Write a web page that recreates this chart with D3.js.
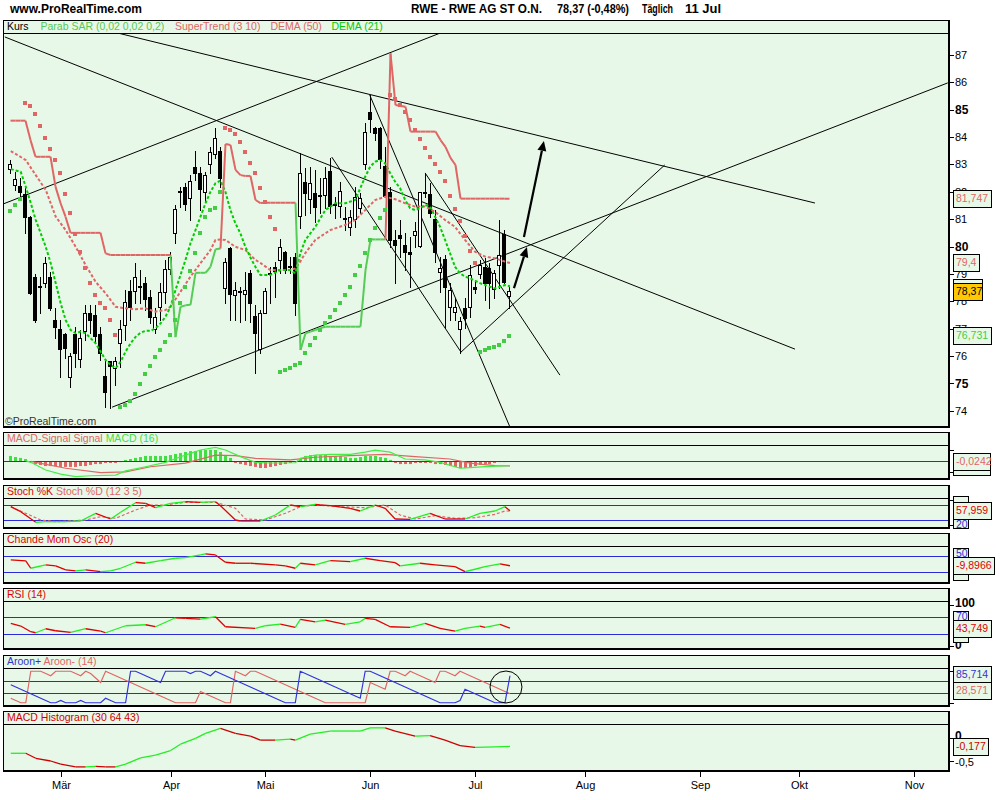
<!DOCTYPE html>
<html><head><meta charset="utf-8">
<script src="https://cdn.jsdelivr.net/npm/d3@7/dist/d3.min.js"></script>
<style>
html,body{margin:0;padding:0;background:#fff;}
svg{display:block;font-family:"Liberation Sans",Arial,Helvetica,sans-serif;}
</style></head><body>
<svg id="chart" width="1000" height="800"></svg>
<script>
// ================= DATA =================
const monthLabels = ["Mär","Apr","Mai","Jun","Jul","Aug","Sep","Okt","Nov"];
const monthIndex  = [10,32,51,72,93,115,138,158,181];
const priceTicks  = [74,75,76,77,78,79,80,81,82,83,84,85,86,87];

const openP = [82.83,82.25,82.20,81.92,81.08,78.89,78.55,78.67,78.89,77.31,
76.99,76.80,75.23,76.80,75.89,76.91,77.57,77.50,76.80,75.27,
75.82,75.56,76.47,77.13,78.37,78.37,78.55,78.67,78.15,76.99,
77.79,78.34,79.18,80.49,82.00,82.17,81.77,82.90,82.68,81.99,
83.02,83.38,83.49,78.48,79.96,78.23,78.33,78.26,79.02,77.46,
76.26,77.57,79.02,79.25,79.51,79.80,79.30,79.62,81.12,82.36,
81.74,81.96,81.90,81.88,82.76,81.55,81.48,81.00,80.71,81.00,
81.41,83.02,84.92,84.33,84.33,82.94,81.99,80.24,80.42,80.06,
79.80,80.42,80.02,82.00,81.92,81.00,79.07,79.54,77.79,77.61,
76.99,77.75,77.79,78.52,78.99,79.25,79.21,78.45,79.32,80.46,
78.19];
const highP = [83.16,82.72,82.50,82.19,81.10,79.00,78.89,79.62,79.07,77.75,
77.31,76.84,76.11,77.06,76.95,77.86,77.86,77.86,77.06,75.85,
75.82,75.96,77.31,78.41,78.78,79.40,79.14,78.89,78.41,77.75,
78.67,79.51,79.80,81.52,82.19,82.32,82.61,83.49,82.92,82.73,
83.65,84.32,83.65,79.58,80.00,78.71,78.53,79.08,79.14,77.86,
77.68,78.48,79.25,79.43,80.27,79.84,79.62,79.76,83.42,82.87,
82.90,82.80,82.50,82.90,83.24,81.81,82.36,81.44,81.33,82.17,
81.96,84.52,85.54,84.37,84.37,83.64,82.18,80.60,80.97,80.49,
80.35,80.90,82.00,82.69,82.32,81.33,79.62,79.69,78.67,78.12,
77.42,78.12,79.32,78.78,79.51,79.58,79.40,79.14,80.97,80.60,
78.52];
const lowP = [82.69,82.07,81.80,80.49,78.25,77.25,77.57,78.52,77.68,76.66,
75.23,75.93,74.87,75.60,75.60,76.58,76.84,76.47,75.85,74.13,
74.10,74.94,75.60,76.58,77.31,77.94,77.94,77.68,77.20,76.84,
77.31,77.94,79.00,80.14,81.46,81.33,80.97,82.43,81.33,81.64,
82.68,83.22,82.19,77.94,77.31,77.31,77.25,77.31,77.25,75.38,
76.11,77.57,77.93,78.15,79.03,79.03,79.03,77.50,80.68,81.15,
81.22,80.90,81.22,81.41,81.22,81.04,81.08,80.60,80.42,80.71,
81.22,82.83,84.19,83.89,82.87,81.81,79.98,78.67,79.62,79.14,
78.52,79.98,79.98,81.81,81.08,79.43,78.34,77.02,77.31,77.31,
76.11,77.02,77.42,78.30,78.85,78.05,77.75,78.12,78.48,78.67,
77.75];
const closeP = [83.02,82.47,82.00,81.08,78.30,77.31,78.52,79.40,77.75,77.06,
76.26,76.29,76.00,76.11,76.66,77.57,77.31,76.73,76.11,74.68,
75.63,75.82,76.99,77.97,77.79,78.89,78.52,78.08,77.42,77.42,
78.34,79.18,79.60,81.37,82.02,81.54,82.39,82.68,82.09,82.61,
83.45,83.97,82.49,79.44,78.26,78.41,78.37,78.41,77.93,76.84,
77.57,78.37,79.04,79.10,79.98,79.14,79.28,77.93,82.69,81.96,
82.32,81.44,81.86,82.50,81.48,81.50,82.03,81.03,81.08,81.81,
81.77,84.19,84.66,84.15,83.20,81.85,80.24,80.06,80.31,79.80,
79.73,80.57,81.99,81.98,81.22,79.80,79.22,78.52,78.41,77.79,
77.28,77.39,78.96,78.45,79.32,78.67,78.67,79.03,79.69,78.70,
78.37];

const parabSAR = [81.31,81.52,81.74,85.26,85.15,84.84,84.42,83.98,83.56,83.16,
82.68,81.92,81.24,80.46,79.79,79.23,78.68,78.23,77.92,77.76,
77.31,76.77,74.15,74.21,74.36,74.61,74.97,75.34,75.63,75.97,
76.22,76.50,76.77,77.31,77.94,78.52,79.12,79.76,80.50,81.09,
81.33,81.42,82.00,84.34,84.26,84.10,83.81,83.44,83.06,82.70,
82.13,81.62,81.09,80.64,75.40,75.49,75.57,75.67,75.75,76.10,
76.40,76.67,76.95,77.19,77.43,77.68,77.92,78.23,78.51,78.96,
79.29,79.75,80.24,80.68,81.04,81.33,85.54,85.38,85.17,84.93,
84.62,84.26,83.93,83.61,83.28,83.02,82.73,82.41,81.86,81.37,
80.94,80.38,79.85,79.41,76.16,76.22,76.28,76.32,76.40,76.56,
76.731];

const superTrend = [84.60,84.60,84.60,84.60,83.89,83.28,83.28,83.28,83.28,82.19,
81.59,81.09,80.50,80.50,80.50,80.50,80.50,80.50,80.50,79.75,
79.69,79.69,79.69,79.69,79.69,79.69,79.69,79.69,79.69,79.69,
79.69,79.69,79.69,76.69,77.80,77.85,77.87,79.04,79.04,79.04,
79.26,79.90,79.93,83.75,83.71,82.80,82.61,82.58,82.58,81.70,
81.59,81.60,81.60,81.60,81.60,81.60,81.60,81.60,76.22,76.83,
76.89,76.95,77.02,77.07,77.07,77.07,77.07,77.07,77.07,77.07,
77.07,79.14,80.26,80.26,80.26,80.26,87.06,85.17,85.14,85.11,
84.20,84.20,84.20,84.20,84.20,84.20,83.89,83.64,83.24,82.98,
81.75,81.75,81.75,81.75,81.75,81.75,81.75,81.75,81.75,81.75,
81.747];

const dema50 = [[0,83.49],[3,83.16],[5,82.61],[7,82.07],[9,81.09],[11,80.60],[13,79.99],[15,79.32],[17,78.71],[19,78.29],[21,77.80],[23,77.74],[25,77.71],[27,77.74],[29,77.62],[31,77.68],[32,77.80],[34,78.35],[36,78.90],[38,79.39],[40,79.87],[41,80.24],[42,80.26],[43,80.24],[45,79.99],[47,79.87],[49,79.51],[50,79.40],[52,79.14],[54,79.14],[56,79.14],[57,79.20],[58,79.45],[59,79.76],[61,80.24],[64,80.60],[67,80.79],[69,80.97],[71,81.33],[73,81.70],[75,81.82],[77,81.73],[79,81.58],[81,81.46],[83,81.46],[85,81.27],[87,80.97],[89,80.72],[91,80.24],[93,79.81],[95,79.63],[97,79.57],[99,79.45],[100,79.40]];
const dema21 = [[0,82.83],[2,82.73],[3,82.19],[4,81.59],[5,80.97],[6,80.48],[7,79.99],[8,79.39],[9,78.66],[10,77.92],[11,77.31],[12,76.95],[13,76.83],[14,76.89],[15,76.83],[16,76.65],[17,76.46],[18,76.16],[19,75.85],[20,75.67],[21,75.55],[22,75.79],[23,76.16],[24,76.46],[25,76.70],[26,76.85],[27,76.92],[28,76.92],[29,77.01],[30,77.19],[31,77.44],[32,77.80],[33,78.41],[34,78.96],[35,79.51],[36,80.12],[37,80.60],[38,81.09],[39,81.58],[40,82.00],[41,82.31],[42,82.41],[43,82.00],[44,81.33],[45,80.85],[46,80.48],[47,79.99],[48,79.60],[49,79.26],[50,78.96],[52,78.96],[54,79.14],[56,79.14],[57,79.02],[58,79.75],[59,80.24],[61,80.72],[63,81.33],[65,81.58],[67,81.58],[69,81.70],[71,82.55],[72,82.92],[73,83.10],[74,83.16],[75,83.04],[76,82.68],[77,82.37],[78,82.13],[79,81.70],[80,81.40],[81,81.33],[82,81.40],[83,81.52],[84,81.46],[85,81.09],[86,80.72],[87,80.24],[88,79.75],[89,79.26],[90,79.02],[91,78.90],[92,78.84],[94,78.66],[96,78.53],[97,78.47],[99,78.59],[100,78.55]];

// trend lines: [index1, price1, index2, price2]
const trendLines = [
  [-1.2,87.66,157.1,76.25],
  [21.5,87.80,161.1,81.59],
  [-1.6,81.55,86.0,87.80],
  [20.3,74.13,187.7,85.98],
  [71.9,85.54,100.0,73.40],
  [90.0,76.11,131.0,82.98],
  [83.0,82.69,110.0,75.30],
  [64.3,83.27,90.2,76.14]
];
const arrowLines = [[100.8,78.48,103.4,79.98],[102.8,80.35,106.8,83.86]];

// MACD (16)
const macdBars = [0.23,0.18,0.14,0.09,-0.05,-0.14,-0.18,-0.23,-0.23,-0.23,
-0.27,-0.27,-0.27,-0.27,-0.23,-0.23,-0.18,-0.14,-0.14,-0.09,
-0.09,-0.09,-0.05,0.05,0.09,0.14,0.18,0.23,0.23,0.23,
0.23,0.23,0.27,0.32,0.36,0.41,0.45,0.45,0.50,0.50,
0.50,0.50,0.41,0.27,0.14,-0.09,-0.14,-0.18,-0.23,-0.27,
-0.32,-0.32,-0.27,-0.23,-0.18,-0.14,-0.09,-0.05,0.09,0.23,
0.27,0.27,0.27,0.27,0.23,0.23,0.23,0.18,0.14,0.14,
0.18,0.23,0.23,0.23,0.18,0.14,0.05,-0.09,-0.14,-0.14,
-0.14,-0.09,-0.09,-0.09,-0.09,-0.14,-0.14,-0.18,-0.23,-0.27,
-0.32,-0.32,-0.27,-0.23,-0.18,-0.14,-0.14,-0.09,-0.05,-0.05,
-0.0242];
const macdLine = [[3,0.02],[4,-0.06],[7,-0.41],[10,-0.60],[13,-0.71],[16,-0.67],[21,-0.64],[23,-0.45],[27,-0.26],[31,-0.06],[35,0.27],[38,0.50],[41,0.62],[43,0.50],[46,0.20],[49,-0.06],[52,-0.09],[57,-0.08],[58,0.12],[61,0.27],[64,0.30],[68,0.30],[71,0.40],[73,0.49],[76,0.40],[79,0.09],[83,0.05],[86,-0.06],[90,-0.33],[92,-0.30],[95,-0.26],[100,-0.21]];
const macdSignal = [[4,-0.02],[5,-0.06],[11,-0.33],[18,-0.53],[23,-0.49],[28,-0.26],[35,-0.10],[41,0.27],[45,0.24],[49,0.12],[56,0.05],[61,0.17],[68,0.24],[75,0.30],[81,0.20],[88,0.09],[92,-0.10],[97,-0.21],[100,-0.22]];

// Stochastic (12 3 5)
const stochK = [[0,74.4],[2,54.4],[5,12],[7,14.4],[11,14.4],[14,17.2],[17,48],[20,25.2],[22,52],[25,90.4],[27,88],[29,70.4],[32,88],[35,94.4],[38,92],[41,94.4],[42,78.4],[45,21.2],[46,17.2],[50,17.2],[53,41.2],[56,81.2],[58,74.4],[61,84],[62,81.2],[64,78.4],[68,68],[70,57.2],[73,81.2],[75,68],[77,25.2],[80,24],[84,48],[87,25.2],[91,25.2],[94,48],[97,57.2],[99,74.4],[100,57.96]];
const stochD = [[0,74.4],[6,21.2],[9,14.4],[15,21.2],[18,34.4],[21,28],[25,61.2],[28,81.2],[31,81.2],[35,92],[41,92],[45,68],[47,25.2],[51,21.2],[55,48],[58,74.4],[61,81.2],[66,74.4],[71,70.4],[75,81.2],[78,41.2],[81,25.2],[85,38.4],[89,28],[93,30.4],[97,44],[99,57.2],[100,57]];

// Chande Momentum Oscillator (20)
const chandeMO = [[0,25.8],[3,19.6],[4,-25.2],[7,-4.9],[9,-11],[11,-35.6],[13,-41.7],[15,-35.6],[18,-46],[20,-41.7],[22,-25.2],[25,11.7],[27,5.5],[30,21.5],[33,36.2],[35,39.9],[38,56.4],[39,62.6],[41,56.4],[43,11.7],[45,5.5],[48,5.5],[53,-4.9],[55,-11],[57,-25.2],[58,5.5],[61,-4.9],[64,21.5],[68,15.3],[71,36.2],[74,21.5],[77,9.2],[78,-11],[82,5.5],[85,-4.9],[89,-15.3],[91,-46],[93,-31.3],[95,-15.3],[98,1.2],[100,-9.8966]];

// RSI (14)
const rsi14 = [[0,55.2],[2,48.7],[4,34.8],[5,32.3],[7,42.1],[9,37.2],[12,33.3],[15,42.1],[18,36.5],[19,32.3],[23,49.4],[27,51.8],[29,47],[33,68.9],[35,67.4],[38,65.7],[41,71.3],[43,47],[49,43],[51,49.4],[54,53.5],[57,45.5],[58,65],[61,59.1],[63,63.3],[67,52.8],[70,59.1],[71,67.4],[73,65],[76,47],[80,45.5],[83,55.2],[86,43],[89,36.5],[91,43],[94,48.7],[95,45.5],[98,52.8],[100,43.749]];

// Aroon (14)
const aroonUp = [57.1,50,42.9,35.7,28.6,21.4,14.3,7.1,0,0,
7.1,0,0,0,7.1,0,0,0,0,14.3,
7.1,0,0,0,100,100,92.9,85.7,78.6,71.4,
64.3,100,100,100,100,100,92.9,100,100,92.9,
85.7,100,92.9,85.7,78.6,71.4,64.3,57.1,50,42.9,
35.7,28.6,21.4,14.3,7.1,0,0,0,100,92.9,
85.7,78.6,71.4,64.3,57.1,50,42.9,35.7,28.6,21.4,
14.3,100,100,92.9,85.7,78.6,71.4,64.3,57.1,50,
42.9,35.7,28.6,21.4,14.3,7.1,0,0,0,0,
7.1,42.9,35.7,28.6,21.4,14.3,7.1,0,0,0,
85.714];
const aroonDown = [14.3,7.1,0,0,100,100,100,92.9,85.7,100,
100,100,100,92.9,85.7,100,92.9,78.6,64.3,100,
92.9,85.7,78.6,71.4,64.3,57.1,50,42.9,35.7,28.6,
21.4,14.3,7.1,0,0,0,0,0,35.7,28.6,
21.4,14.3,7.1,0,0,100,92.9,85.7,100,100,
92.9,85.7,78.6,71.4,64.3,57.1,50,42.9,35.7,28.6,
21.4,14.3,7.1,0,0,0,0,0,0,0,
0,0,64.3,57.1,50,42.9,100,100,92.9,85.7,
100,92.9,85.7,78.6,71.4,64.3,100,100,92.9,85.7,
100,92.9,85.7,78.6,71.4,64.3,57.1,50,42.9,35.7,
28.571];

// MACD Histogram (30 64 43)
const macdHist3064 = [[0,-0.33],[3,-0.33],[5,-0.44],[8,-0.50],[10,-0.57],[13,-0.63],[15,-0.63],[17,-0.62],[19,-0.63],[21,-0.63],[23,-0.57],[26,-0.43],[29,-0.37],[32,-0.27],[34,-0.13],[37,0],[39,0.11],[42,0.22],[45,0.11],[48,0.05],[50,-0.04],[53,-0.04],[56,-0.02],[57,-0.04],[60,0.09],[64,0.16],[70,0.16],[72,0.23],[75,0.23],[77,0.16],[81,0.05],[84,0.06],[87,-0.04],[90,-0.16],[93,-0.20],[97,-0.19],[100,-0.177]];

// ================= DRAWING =================
const svg = d3.select("#chart");
const BG = "#e8f8e8", RED = "#e06666", BRED = "#e00000", GRN = "#44cc44",
      LGRN = "#22ee22", DGRN = "#00cc00", BLUE = "#2a2ad8";
const L = 3, R = 948;
const P = {
  main:{top:20, head:33, bottom:426},
  macd:{top:432, head:445, bottom:478},
  stoch:{top:485, head:498, bottom:527},
  cmo:{top:533, head:546, bottom:582},
  rsi:{top:588, head:601, bottom:648},
  aroon:{top:655, head:668, bottom:705},
  hist:{top:711, head:724, bottom:770}
};
const x = d3.scaleLinear().domain([10,181]).range([60.7,914.3]);
const cx = i => Math.floor(x(i)) + 0.5;

const defs = svg.append("defs");
function drawPanel(key){
  const p = P[key];
  svg.append("rect").attr("x",L+0.5).attr("y",p.top+0.5).attr("width",R-L).attr("height",p.bottom-p.top)
     .attr("fill",BG).attr("stroke","#000");
  svg.append("line").attr("x1",L).attr("x2",R).attr("y1",p.head+0.5).attr("y2",p.head+0.5).attr("stroke","#000");
  svg.append("rect").attr("x",R).attr("y",p.top).attr("width",2).attr("height",p.bottom-p.top+2).attr("fill","#000");
  svg.append("rect").attr("x",L).attr("y",p.bottom).attr("width",R-L+2).attr("height",2).attr("fill","#000");
  defs.append("clipPath").attr("id","clip-"+key).append("rect")
     .attr("x",L+1).attr("y",p.head+1).attr("width",R-L-1).attr("height",p.bottom-p.head-1);
  return svg.append("g").attr("clip-path","url(#clip-"+key+")");
}
function title(key, parts){
  const p = P[key];
  const t = svg.append("text").attr("x", 7).attr("y", p.head-3).attr("font-size",10.5);
  parts.forEach(pt => t.append("tspan").attr("fill",pt[1]).text(pt[0]));
}
function guide(g, y){
  g.append("line").attr("x1",L).attr("x2",R).attr("y1",Math.round(y)+0.5).attr("y2",Math.round(y)+0.5)
   .attr("stroke",BLUE).attr("stroke-width",1);
}
function dirLine(g, pts, yS, up, down, w){
  let prev = up;
  for (let k=1;k<pts.length;k++){
    const a = pts[k-1], b = pts[k];
    const col = b[1] > a[1] ? up : (b[1] < a[1] ? down : prev);
    prev = col;
    g.append("line").attr("x1",x(a[0])).attr("y1",yS(a[1])).attr("x2",x(b[0])).attr("y2",yS(b[1]))
     .attr("stroke",col).attr("stroke-width",w||1.2);
  }
}
const axisLayer = [];
function tick(y){
  axisLayer.push(()=> svg.append("line").attr("x1",950).attr("x2",954).attr("y1",Math.round(y)+0.5).attr("y2",Math.round(y)+0.5).attr("stroke","#000"));
}
function axisLabel(y, text, opts={}){
  axisLayer.push(()=> svg.append("text").attr("x",955).attr("y",y).attr("dy","0.36em")
    .attr("font-size",opts.size||11).attr("font-weight",opts.bold?"bold":"normal")
    .attr("fill",opts.color||"#000").text(text));
}
function valueBox(yc, text, color, opts={}){
  axisLayer.push(()=>{
    const h = opts.h || 17;
    const top = opts.top !== undefined ? opts.top : Math.round(yc - h/2);
    const g = svg.append("g");
    const r = g.append("rect");
    let w = opts.w || 10;
    if (text) {
      const t = g.append("text").attr("x",956).attr("y", opts.base !== undefined ? opts.base : top + h/2)
        .attr("dy", opts.base !== undefined ? 0 : "0.36em").attr("font-size",10.5).attr("fill",color).text(text);
      if (!opts.w) w = Math.ceil(t.node().getComputedTextLength()) + 5;
    }
    r.attr("x",953.5).attr("y",top+0.5).attr("width",w).attr("height",h)
     .attr("fill",opts.bg||BG).attr("stroke","#000");
  });
}

// ---------- header ----------
svg.append("text").attr("x",10).attr("y",13).attr("font-size",12).attr("font-weight","bold").text("www.ProRealTime.com");
[["RWE - RWE AG ST O.N.",411,131],["78,37 (-0,48%)",557,72],["Täglich",642,31],["11 Jul",685,36]].forEach(d=>
  svg.append("text").attr("x",d[1]).attr("y",13).attr("font-size",12).attr("font-weight","bold")
     .attr("textLength",d[2]).attr("lengthAdjust","spacingAndGlyphs").text(d[0]));

// ---------- main price panel ----------
const yP = d3.scaleLinear().domain([74,87]).range([410.7,55]);
const gm = drawPanel("main");
[["Kurs","#000",7],["Parab SAR (0,02 0,02 0,2)","#55c855",40.5],["SuperTrend (3 10)",RED,175],["DEMA (50)",RED,270.5],["DEMA (21)",DGRN,331.5]]
  .forEach(d => svg.append("text").attr("x",d[2]).attr("y",30).attr("font-size",10.5).attr("fill",d[1]).text(d[0]));

trendLines.forEach(t => gm.append("line").attr("x1",x(t[0])).attr("y1",yP(t[1])).attr("x2",x(t[2])).attr("y2",yP(t[3]))
  .attr("stroke","#000").attr("stroke-width",1));

// candles
openP.forEach((o,i)=>{
  const c = closeP[i], X = cx(i);
  gm.append("line").attr("x1",X).attr("x2",X).attr("y1",Math.round(yP(highP[i]))).attr("y2",Math.round(yP(lowP[i]))+1).attr("stroke","#000");
  const yt = Math.round(yP(Math.max(o,c))), yb = Math.round(yP(Math.min(o,c)));
  if (c >= o) gm.append("rect").attr("x",X-2).attr("y",yt+0.5).attr("width",3).attr("height",Math.max(yb-yt,1))
                .attr("fill","#fff").attr("stroke","#000");
  else gm.append("rect").attr("x",X-2.5).attr("y",yt).attr("width",4).attr("height",Math.max(yb-yt,1)+1).attr("fill","#000");
});

// DEMA lines
const lineP = d3.line().x(d=>x(d[0])).y(d=>yP(d[1]));
gm.append("path").attr("d",lineP(dema50)).attr("fill","none").attr("stroke",RED).attr("stroke-width",2).attr("stroke-dasharray","3,2");
gm.append("path").attr("d",lineP(dema21)).attr("fill","none").attr("stroke",DGRN).attr("stroke-width",2).attr("stroke-dasharray","3,2");

// SuperTrend
for (let i=1;i<superTrend.length;i++){
  const col = superTrend[i] > closeP[i] ? RED : "#55cc55";
  gm.append("line").attr("x1",cx(i-1)).attr("y1",yP(superTrend[i-1])).attr("x2",cx(i)).attr("y2",yP(superTrend[i]))
    .attr("stroke",col).attr("stroke-width",2);
}
// Parabolic SAR
parabSAR.forEach((v,i)=> gm.append("rect").attr("x",Math.floor(x(i))-2).attr("y",Math.round(yP(v))-2)
  .attr("width",4).attr("height",4).attr("fill", v > closeP[i] ? RED : GRN));

// arrows
arrowLines.forEach(a=>{
  const x1=x(a[0]), y1=yP(a[1]), x2=x(a[2]), y2=yP(a[3]);
  const ang = Math.atan2(y2-y1, x2-x1), hl = 10, hw = 4.5;
  const bx = x2 - hl*Math.cos(ang), by = y2 - hl*Math.sin(ang);
  gm.append("line").attr("x1",x1).attr("y1",y1).attr("x2",bx).attr("y2",by).attr("stroke","#000").attr("stroke-width",2.2);
  gm.append("path").attr("d",`M${x2},${y2}L${bx+hw*Math.sin(ang)},${by-hw*Math.cos(ang)}L${bx-hw*Math.sin(ang)},${by+hw*Math.cos(ang)}Z`).attr("fill","#000");
});
svg.append("text").attr("x",5).attr("y",425).attr("font-size",10.5).attr("fill","#333").text("©ProRealTime.com");

priceTicks.forEach(v=>{ tick(yP(v)); axisLabel(yP(v), String(v), {bold: v%5===0, size: v%5===0?12:11}); });
valueBox(yP(81.747),"81,747",RED);
valueBox(yP(79.4),"79,4",RED);
valueBox(0,"",RED,{top:279,h:16,w:29});
valueBox(yP(78.37),"78,37","#000",{bg:"#ffc800",top:283,h:17,w:29});
valueBox(yP(76.731),"76,731",GRN);

// ---------- MACD panel ----------
const yM = d3.scaleLinear().domain([-0.5,0.5]).range([472,450]);
const gM = drawPanel("macd");
title("macd",[["MACD-Signal Signal ",RED],["MACD (16)","#44dd44"]]);
macdBars.forEach((v,i)=>{
  const y0 = yM(0), y1 = yM(v);
  gM.append("rect").attr("x",Math.floor(x(i))-1).attr("y",Math.min(y0,y1)).attr("width",3).attr("height",Math.max(Math.abs(y1-y0),0.6))
    .attr("fill", v>=0 ? "#44dd44" : RED);
});
guide(gM, yM(0));
const lineM = d3.line().x(d=>x(d[0])).y(d=>yM(d[1]));
gM.append("path").attr("d",lineM(macdSignal)).attr("fill","none").attr("stroke",RED).attr("stroke-width",1.2);
gM.append("path").attr("d",lineM(macdLine)).attr("fill","none").attr("stroke","#44ee44").attr("stroke-width",1.2);
tick(yM(0.5)); tick(yM(-0.5));
valueBox(0,"",RED,{top:468,h:7,w:37});
valueBox(yM(-0.0242),"-0,0242",RED,{w:37});

// ---------- Stochastic ----------
const yS = d3.scaleLinear().domain([20,80]).range([520.3,505.3]);
const gS = drawPanel("stoch");
title("stoch",[["Stoch %K ",BRED],["Stoch %D (12 3 5)",RED]]);
guide(gS, yS(80)); guide(gS, yS(20));
gS.append("path").attr("d",d3.line().x(d=>x(d[0])).y(d=>yS(d[1]))(stochD)).attr("fill","none").attr("stroke",RED).attr("stroke-width",1.2).attr("stroke-dasharray","3,2");
dirLine(gS, stochK, yS, LGRN, BRED, 1.3);
tick(yS(100)); tick(yS(0));
valueBox(0,"",BLUE,{top:496,h:12,w:15});
valueBox(0,"20",BLUE,{top:518,h:10,w:15,base:527.5});
valueBox(yS(57.959),"57,959",BRED);

// ---------- Chande ----------
const yC = d3.scaleLinear().domain([-50,50]).range([572.3,556]);
const gC = drawPanel("cmo");
title("cmo",[["Chande Mom Osc (20)",BRED]]);
guide(gC, yC(50)); guide(gC, yC(-50));
dirLine(gC, chandeMO, yC, LGRN, BRED, 1.3);
valueBox(0,"50",BLUE,{top:548,h:10,w:15,base:557});
valueBox(0,"",BLUE,{top:572,h:8,w:15});
valueBox(yC(-9.8966),"-9,8966",BRED);

// ---------- RSI ----------
const yR = d3.scaleLinear().domain([30,70]).range([633.7,617.3]);
const gR = drawPanel("rsi");
title("rsi",[["RSI (14)",BRED]]);
guide(gR, yR(70)); guide(gR, yR(30));
dirLine(gR, rsi14, yR, LGRN, BRED, 1.3);
tick(yR(100)); tick(yR(0));
axisLabel(603,"100",{bold:true,size:12});
axisLabel(645,"0",{bold:true,size:12});
valueBox(0,"70",BLUE,{top:611,h:10,w:15,base:620});
valueBox(0,"",BLUE,{top:636,h:6,w:15});
valueBox(yR(43.749),"43,749",BRED);

// ---------- Aroon ----------
const yA = d3.scaleLinear().domain([30,70]).range([693.3,680.7]);
const gA = drawPanel("aroon");
title("aroon",[["Aroon+ ","#3333cc"],["Aroon- (14)",RED]]);
guide(gA, yA(70)); guide(gA, yA(30));
const lineA = d3.line().x((d,i)=>x(i)).y(d=>yA(d));
gA.append("path").attr("d",lineA(aroonDown)).attr("fill","none").attr("stroke",RED).attr("stroke-width",1.2);
gA.append("path").attr("d",lineA(aroonUp)).attr("fill","none").attr("stroke","#3333dd").attr("stroke-width",1.2);
gA.append("circle").attr("cx",x(99.2)).attr("cy",yA(50)).attr("r",16).attr("fill","none").attr("stroke","#000").attr("stroke-width",1);
tick(yA(100)); tick(yA(0));
valueBox(0,"85,714","#3333cc",{top:666,h:16});
valueBox(0,"28,571",RED,{top:682,h:17});

// ---------- MACD Histogram (30 64 43) ----------
const yH = d3.scaleLinear().domain([-0.5,0]).range([761,738.3]);
const gH = drawPanel("hist");
title("hist",[["MACD Histogram (30 64 43)","#cc0000"]]);
dirLine(gH, macdHist3064, yH, LGRN, "#cc0000", 1.3);
tick(yH(0)); tick(yH(-0.5));
axisLabel(yH(0)-3,"0",{bold:true,size:12});
axisLabel(yH(-0.5)+1,"-0,5",{size:11});
valueBox(yH(-0.177),"-0,177","#cc0000");

// ---------- bottom time axis ----------
monthIndex.forEach((m,k)=>{
  const X = Math.round(x(m)) + 0.5;
  svg.append("line").attr("x1",X).attr("x2",X).attr("y1",772).attr("y2",777).attr("stroke","#000");
  svg.append("text").attr("x",X).attr("y",789).attr("text-anchor","middle").attr("font-size",11).text(monthLabels[k]);
});

// axis items and value boxes on top
axisLayer.forEach(f=>f());
</script>
</body></html>
